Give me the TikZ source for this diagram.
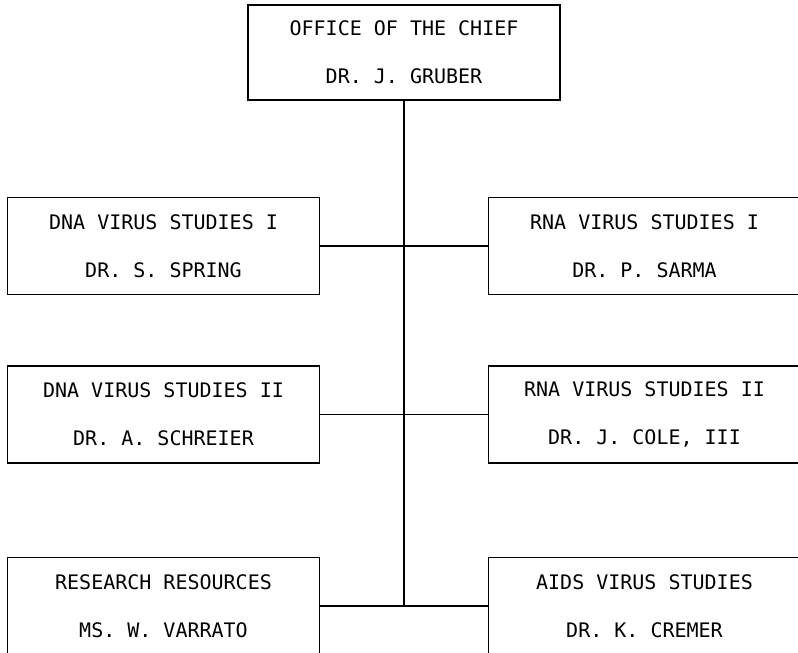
\documentclass[tikz,border=0pt]{standalone}
\usepackage{fontspec}
\newfontfamily\chartfont{DejaVu Sans Mono}
\usetikzlibrary{positioning}

\begin{document}
\begin{tikzpicture}[x=1pt,y=-1pt,
    unitbox/.style={draw, line width=1.1pt, minimum width=312pt, minimum height=97pt,
        align=center, font=\chartfont\fontsize{20}{48}\selectfont, inner sep=0pt},
    link/.style={line width=1.1pt}]
    \useasboundingbox (0,0) rectangle (798,653);
    \clip (0,0) rectangle (798,653);

    % office of the chief
    \node [unitbox, minimum height=95pt] (chief) at (404,52.5) {OFFICE OF THE CHIEF\\DR. J. GRUBER};

    % left column
    \node [unitbox] (dnaone) at (163.5,246) {DNA VIRUS STUDIES I\\DR. S. SPRING};
    \node [unitbox] (dnatwo) at (163.5,414.5) {DNA VIRUS STUDIES II\\DR. A. SCHREIER};
    \node [unitbox] (resources) at (163.5,606) {RESEARCH RESOURCES\\MS. W. VARRATO};

    % right column
    \node [unitbox] (rnaone) at (644.5,246) {RNA VIRUS STUDIES I\\DR. P. SARMA};
    \node [unitbox] (rnatwo) at (644.5,414.5) {RNA VIRUS STUDIES II\\DR. J. COLE, III};
    \node [unitbox] (aids) at (644.5,606) {AIDS VIRUS STUDIES\\DR. K. CREMER};

    % trunk and branches
    \coordinate (trunkend) at (404,606);
    \draw [link] (chief.south) -- (trunkend);
    \draw [link] (dnaone.east) -- (rnaone.west);
    \draw [link] (dnatwo.east) -- (rnatwo.west);
    \draw [link] (resources.east) -- (aids.west);
\end{tikzpicture}
\end{document}
